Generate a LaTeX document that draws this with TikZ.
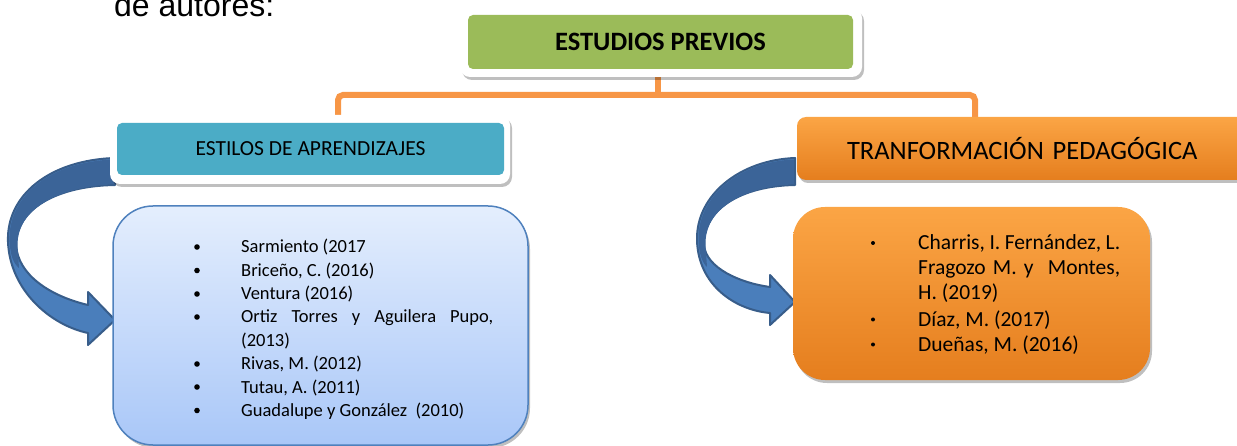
\documentclass[tikz,border=0pt]{standalone}
\usepackage{fontspec}
\setmainfont{Carlito}
\newfontfamily\arialf{Liberation Sans}
\usetikzlibrary{shadows}
\definecolor{greenbox}{HTML}{9BBB59}
\definecolor{tealbox}{HTML}{4BACC6}
\definecolor{connor}{HTML}{F79646}
\definecolor{orT}{HTML}{FBA545}
\definecolor{orB}{HTML}{E57E1E}
\definecolor{blT}{HTML}{E4EEFD}
\definecolor{blB}{HTML}{A9C7F8}
\definecolor{blBorder}{HTML}{4F81BD}
\definecolor{arDark}{HTML}{3B6498}
\definecolor{arLight}{HTML}{4A7EBB}
\definecolor{arLine}{HTML}{385D8A}
\begin{document}
\begin{tikzpicture}[x=1pt,y=-1pt,
  shad/.style={drop shadow={shadow xshift=2pt,shadow yshift=-3pt,fill=black,opacity=.25}},
  frame/.style={draw=none,fill=white,rounded corners=10pt,inner sep=0pt,shad},
  header/.style={draw=none,rounded corners=5pt,inner sep=0pt},
  conn/.style={draw=connor,line width=6pt,rounded corners=5pt},
  arrowbody/.style={fill=arLight,draw=arLine,line width=2pt,line join=round},
  arrowback/.style={fill=arDark,draw=none},
  lt/.style={anchor=base west,inner sep=0pt,font=\fontsize{18.5}{22}\selectfont},
  rt/.style={anchor=base west,inner sep=0pt,font=\fontsize{21.5}{25}\selectfont},
  dot/.style={fill=black}
]
\useasboundingbox (0,0) rectangle (1237,446);

% heading text (cut off at top, as in the reference)
\node[anchor=base west,inner sep=0pt,font=\arialf\fontsize{32}{36}\selectfont] (intro) at (114,17) {de autores:};

% connectors
\coordinate (bus) at (658,95);
\coordinate (lj) at (338,121);
\coordinate (rj) at (975,121);
\draw[conn] (658,70) -- (bus);
\draw[conn] (lj) |- (bus) -| (rj);

% curved arrows (drawn below boxes)
\path[arrowbody] (115,158) .. controls (50,160) and (6,195) .. (8,242)
  .. controls (10,290) and (50,325) .. (88,333) -- (88,345) -- (115,320) -- (88,292) -- (88,305)
  .. controls (50,296) and (18,275) .. (16,245)
  .. controls (16,210) and (55,186) .. (115,185) -- cycle;
\path[arrowback] (114,159.5) .. controls (50,161.5) and (7.5,196) .. (9.5,242)
  .. controls (10.5,255) and (13,263) .. (19,268) -- (17.5,245)
  .. controls (17.5,210) and (55,187.5) .. (114,184) -- cycle;

\path[arrowbody] (795,158) .. controls (740,160) and (696,195) .. (697,240)
  .. controls (698,285) and (735,310) .. (770,313) -- (770,325) -- (795,302) -- (770,275) -- (770,287)
  .. controls (740,283) and (706,268) .. (704,245)
  .. controls (703,210) and (740,186) .. (795,185) -- cycle;
\path[arrowback] (794,159.5) .. controls (740,161.5) and (697.5,196) .. (698.5,240)
  .. controls (699,254) and (702,262) .. (707,267) -- (705.5,245)
  .. controls (704.5,210) and (740,187.5) .. (794,184) -- cycle;

% top box
\node[frame,minimum width=402pt,minimum height=69pt] (topframe) at (661,42.5) {};
\node[header,fill=greenbox,minimum width=385pt,minimum height=54pt,
      font=\bfseries\fontsize{26.5}{30}\selectfont] (top) at (660.5,42) {ESTUDIOS PREVIOS};

% left header
\node[frame,minimum width=400pt,minimum height=69pt] (leftframe) at (310,149.5) {};
\node[header,fill=tealbox,minimum width=387pt,minimum height=52pt,
      font=\fontsize{21.5}{25}\selectfont] (left) at (310.5,149) {ESTILOS DE APRENDIZAJES};

% right header
\node[header,rounded corners=9pt,top color=orT,bottom color=orB,shad,
      minimum width=453pt,minimum height=63pt,
      font=\fontsize{26.5}{30}\selectfont,text width=453pt,align=left] (right) at (1023.5,148.5)
      {\hspace*{50pt}TRANFORMACIÓN PEDAGÓGICA};

% left list box
\node[draw=blBorder,line width=1.5pt,rounded corners=40pt,top color=blT,bottom color=blB,
      shad,minimum width=415pt,minimum height=239pt,inner sep=0pt] (leftlist) at (320.5,325.5) {};
\foreach \y in {253,276.5,300,323,370,393,416.5}{\fill[dot] (197,\y-6) circle (2.8pt);}
\node[lt] (l1) at (241,253) {Sarmiento (2017};
\node[lt] (l2) at (241,276.5) {Briceño, C. (2016)};
\node[lt] (l3) at (241,300) {Ventura (2016)};
\node[lt] (l4) at (241,323) {\makebox[252pt][s]{Ortiz Torres y Aguilera Pupo,}};
\node[lt] (l5) at (241,346.5) {(2013)};
\node[lt] (l6) at (241,370) {Rivas, M. (2012)};
\node[lt] (l7) at (241,393) {Tutau, A. (2011)};
\node[lt] (l8) at (241,416.5) {Guadalupe y González\ \ (2010)};

% right list box
\node[draw=none,rounded corners=32pt,top color=orT,bottom color=orB,shad,
      minimum width=357pt,minimum height=173pt,inner sep=0pt] (rightlist) at (971.5,293.5) {};
\foreach \y in {250,326.5,351.5}{\fill[dot] (873,\y-7) circle (2pt);}
\node[rt] (r1) at (918,250) {\makebox[202pt][s]{Charris, I. Fernández, L.}};
\node[rt] (r2) at (918,275) {\makebox[202pt][s]{Fragozo M. y\ \ Montes,}};
\node[rt] (r3) at (918,300) {H. (2019)};
\node[rt] (r4) at (918,326.5) {Díaz, M. (2017)};
\node[rt] (r5) at (918,351.5) {Dueñas, M. (2016)};
\end{tikzpicture}
\end{document}
